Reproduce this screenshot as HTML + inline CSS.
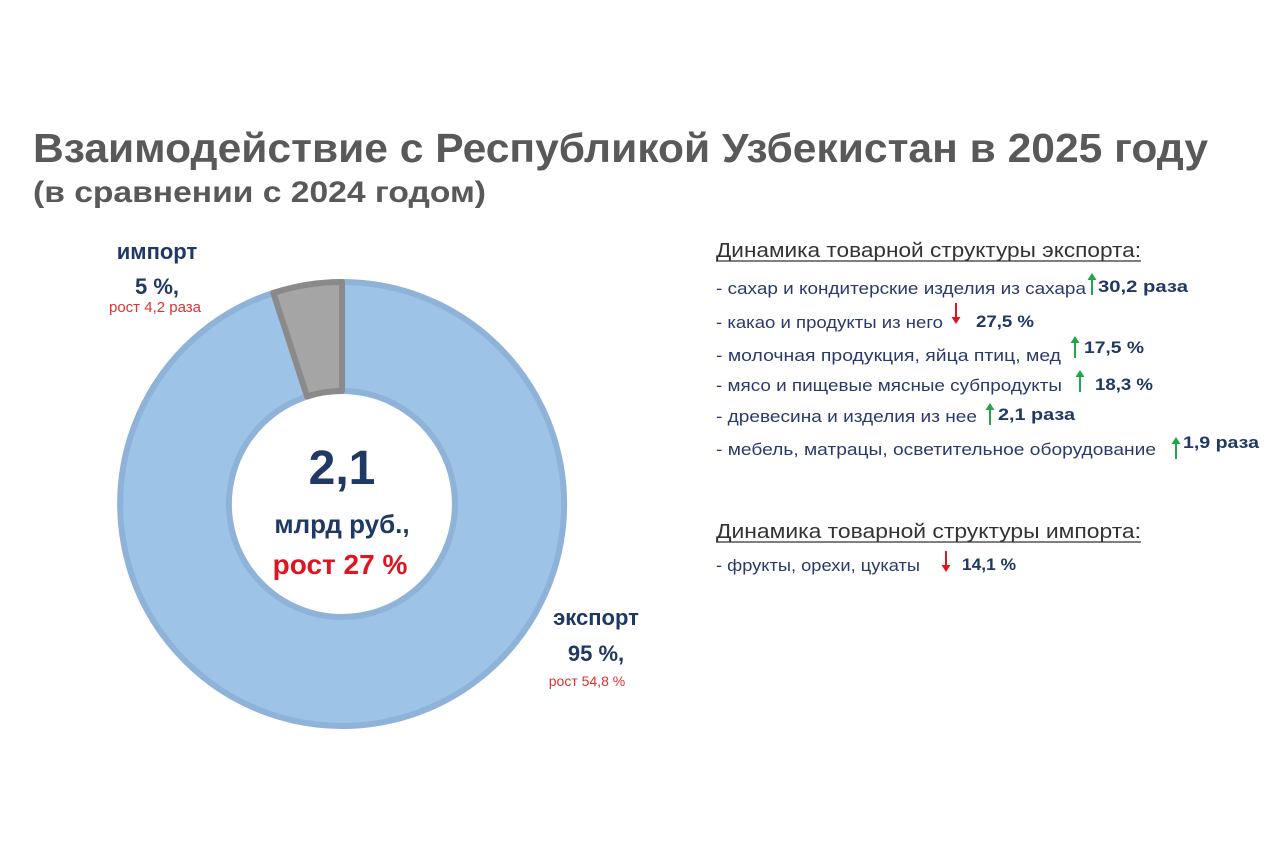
<!DOCTYPE html>
<html><head><meta charset="utf-8"><style>
html,body{margin:0;padding:0;background:#fff;}
svg{display:block;font-family:"Liberation Sans",sans-serif;}
</style></head><body>
<svg width="1280" height="852" viewBox="0 0 1280 852">
<rect width="1280" height="852" fill="#fff"/>
<text x="33" y="162" font-size="41" font-weight="bold" fill="#595959" textLength="1175" lengthAdjust="spacingAndGlyphs">Взаимодействие с Республикой Узбекистан в 2025 году</text>
<text x="33" y="202" font-size="30" font-weight="bold" fill="#595959" textLength="453" lengthAdjust="spacingAndGlyphs">(в сравнении с 2024 годом)</text>

<path d="M342 282 A222 222 0 1 1 273.4 292.9 L307.1 396.5 A113 113 0 1 0 342 391 Z" fill="#9dc3e6" stroke="#8eb2d8" stroke-width="6" stroke-linejoin="round"/>
<path d="M273.4 292.9 A222 222 0 0 1 342 282 L342 391 A113 113 0 0 0 307.1 396.5 Z" fill="#a5a5a5" stroke="#8a8a8a" stroke-width="6" stroke-linejoin="round"/>

<text x="342" y="484" font-size="48" font-weight="bold" fill="#1f3864" text-anchor="middle">2,1</text>
<text x="342" y="533" font-size="26" font-weight="bold" fill="#1f3864" text-anchor="middle">млрд руб.,</text>
<text x="340" y="574" font-size="28" font-weight="bold" fill="#e0141e" text-anchor="middle">рост 27 %</text>

<text x="157" y="259" font-size="22" font-weight="bold" fill="#1f3864" text-anchor="middle">импорт</text>
<text x="157" y="294" font-size="22" font-weight="bold" fill="#1f3864" text-anchor="middle">5 %,</text>
<text x="155" y="312" font-size="15" fill="#e03030" text-anchor="middle">рост 4,2 раза</text>
<text x="596" y="625" font-size="22" font-weight="bold" fill="#1f3864" text-anchor="middle">экспорт</text>
<text x="596" y="661" font-size="22" font-weight="bold" fill="#1f3864" text-anchor="middle">95 %,</text>
<text x="587" y="686" font-size="14" fill="#e03030" text-anchor="middle">рост 54,8 %</text>

<defs>
<g id="up"><line x1="0" y1="4" x2="0" y2="22" stroke="#1ea84a" stroke-width="2"/><path d="M-4.5 7 L0 0 L4.5 7 Z" fill="#1ea84a"/></g>
<g id="dn"><line x1="0" y1="0" x2="0" y2="16" stroke="#e0141e" stroke-width="2"/><path d="M-4.5 14 L0 21 L4.5 14 Z" fill="#e0141e"/></g>
</defs>

<g fill="#2a3a6a" font-size="17">
<text x="716" y="257" font-size="20" fill="#333" textLength="425" lengthAdjust="spacingAndGlyphs">Динамика товарной структуры экспорта:</text>
<line x1="716" y1="261" x2="1141" y2="261" stroke="#333" stroke-width="1.3"/>
<text x="716" y="294" textLength="370" lengthAdjust="spacingAndGlyphs">- сахар и кондитерские изделия из сахара</text>
<use href="#up" x="1092" y="273"/>
<text x="1098" y="292" font-weight="bold" fill="#1f3864" textLength="90" lengthAdjust="spacingAndGlyphs">30,2 раза</text>

<text x="716" y="328" textLength="227" lengthAdjust="spacingAndGlyphs">- какао и продукты из него</text>
<use href="#dn" x="956" y="303"/>
<text x="976" y="327" font-weight="bold" fill="#1f3864" textLength="58" lengthAdjust="spacingAndGlyphs">27,5 %</text>

<text x="716" y="361" textLength="345" lengthAdjust="spacingAndGlyphs">- молочная продукция, яйца птиц, мед</text>
<use href="#up" x="1075" y="336"/>
<text x="1084" y="353" font-weight="bold" fill="#1f3864" textLength="60" lengthAdjust="spacingAndGlyphs">17,5 %</text>

<text x="716" y="391" textLength="346" lengthAdjust="spacingAndGlyphs">- мясо и пищевые мясные субпродукты</text>
<use href="#up" x="1080" y="370"/>
<text x="1095" y="390" font-weight="bold" fill="#1f3864" textLength="58" lengthAdjust="spacingAndGlyphs">18,3 %</text>

<text x="716" y="422" textLength="261" lengthAdjust="spacingAndGlyphs">- древесина и изделия из нее</text>
<use href="#up" x="990" y="403"/>
<text x="998" y="420" font-weight="bold" fill="#1f3864" textLength="77" lengthAdjust="spacingAndGlyphs">2,1 раза</text>

<text x="716" y="455" textLength="440" lengthAdjust="spacingAndGlyphs">- мебель, матрацы, осветительное оборудование</text>
<use href="#up" x="1176" y="437"/>
<text x="1183" y="448" font-weight="bold" fill="#1f3864" textLength="76" lengthAdjust="spacingAndGlyphs">1,9 раза</text>

<text x="716" y="538" font-size="20" fill="#333" textLength="425" lengthAdjust="spacingAndGlyphs">Динамика товарной структуры импорта:</text>
<line x1="716" y1="542" x2="1141" y2="542" stroke="#333" stroke-width="1.3"/>
<text x="716" y="571" textLength="204" lengthAdjust="spacingAndGlyphs">- фрукты, орехи, цукаты</text>
<use href="#dn" x="946" y="551"/>
<text x="962" y="570" font-weight="bold" fill="#1f3864" textLength="54" lengthAdjust="spacingAndGlyphs">14,1 %</text>
</g>
</svg>
</body></html>
